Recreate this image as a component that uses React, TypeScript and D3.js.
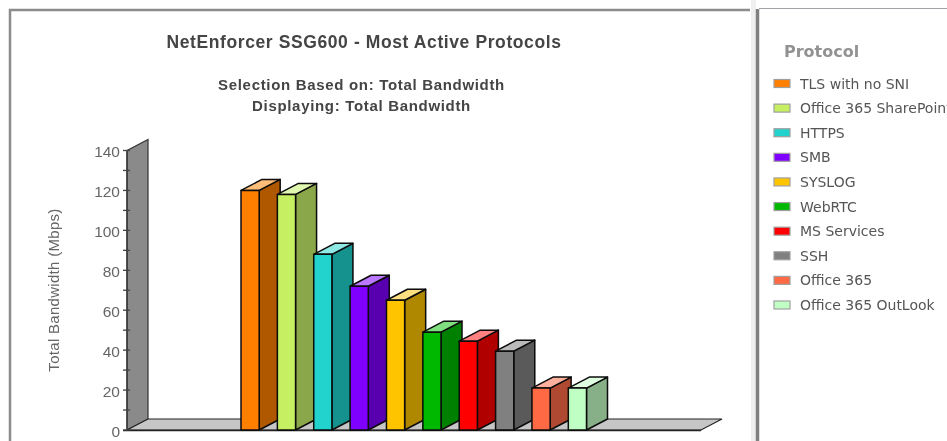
import React from "react";
import * as d3 from "d3";

const categories = ["TLS with no SNI", "Office 365 SharePoint", "HTTPS", "SMB", "SYSLOG", "WebRTC", "MS Services", "SSH", "Office 365", "Office 365 OutLook"];
const values = [120, 118, 88, 72, 65, 49, 44.5, 39.5, 21, 21];
const frontColors = ["#ff8000", "#c6ef62", "#20d2cc", "#8000ff", "#ffc400", "#00b800", "#ff0000", "#808080", "#ff6a45", "#c0ffc4"];
const sideColors = ["#b05800", "#8aa748", "#18928e", "#5800b0", "#b08800", "#008000", "#b00000", "#5a5a5a", "#b04a30", "#88b088"];
const topColors = ["#ffbe78", "#e0f7b0", "#8ee8e4", "#bb77ff", "#ffe080", "#80e080", "#ff8080", "#bbbbbb", "#ffb09c", "#e0ffe0"];
const yTicks = [0, 20, 40, 60, 80, 100, 120, 140];
const yMinorTicks = [10, 30, 50, 70, 90, 110, 130];
const title = "NetEnforcer SSG600 - Most Active Protocols";
const subtitles = ["Selection Based on: Total Bandwidth", "Displaying: Total Bandwidth"];
const yLabel = "Total Bandwidth (Mbps)";
const legendTitle = "Protocol";

const DX = 21;
const DY = -11;
const AXIS_X = 127;
const FLOOR_END = 701;

export default function App() {
  const y = d3.scaleLinear().domain([0, 140]).range([430, 150.5]);
  const x = d3.scaleBand<string>().domain(categories).range([241, 586.5]).paddingInner(0.5).paddingOuter(0);
  const w = x.bandwidth();
  const legendY = d3.scalePoint<string>().domain(categories).range([83.5, 305]);
  const poly = (pts: [number, number][]) => d3.line()(pts)! + "Z";
  const bars = categories.map((c, i) => ({ c, v: values[i], i, x0: x(c)!, yt: y(values[i]) }));

  return (
    <svg width={947} height={441} viewBox="0 0 947 441" style={{ position: "fixed", left: 0, top: 0, display: "block", background: "#fff" }}>
      <defs>
        <filter id="soft" x="-5%" y="-5%" width="110%" height="110%"><feGaussianBlur stdDeviation="0.4" /></filter>
      </defs>
      <g filter="url(#soft)">
        {/* panels */}
        <rect x={751} y={0} width={5} height={441} fill="#f0f0f0" />
        <path d="M10 441V10H750" fill="none" stroke="#8c8c8c" strokeWidth={2.5} />
        <path d="M757.5 441V9" fill="none" stroke="#808080" strokeWidth={3.5} />
        <path d="M759 8.5H947" fill="none" stroke="#a0a4a8" strokeWidth={1} />
        {/* walls */}
        <path d={poly([[AXIS_X, y(140)], [AXIS_X + DX, y(140) + DY], [AXIS_X + DX, y(0) + DY], [AXIS_X, y(0)]])} fill="#8a8a8a" stroke="#333" strokeWidth={1.2} />
        <path d={poly([[AXIS_X, y(0)], [AXIS_X + DX, y(0) + DY], [FLOOR_END + DX, y(0) + DY], [FLOOR_END, y(0)]])} fill="#c6c6c6" stroke="#222" strokeWidth={1.2} />
        {/* axis */}
        <line x1={AXIS_X} x2={AXIS_X} y1={y(140)} y2={y(0)} stroke="#333" strokeWidth={1.2} />
        <line x1={123} x2={FLOOR_END} y1={y(0) + 0.5} y2={y(0) + 0.5} stroke="#222" strokeWidth={1.6} />
        {yTicks.map((t) => (
          <g key={t}>
            <line x1={123} x2={130} y1={y(t)} y2={y(t)} stroke="#444" strokeWidth={1.3} />
            <text x={120} y={y(t) + 6.5} textAnchor="end" fontFamily="Liberation Sans" fontSize={15.5} fill="#666">{t}</text>
          </g>
        ))}
        {yMinorTicks.map((t) => (
          <line key={t} x1={123} x2={130} y1={y(t)} y2={y(t)} stroke="#444" strokeWidth={1.3} />
        ))}
        {/* bars */}
        {bars.map((b) => (
          <g key={b.c} stroke="#0a0a0a" strokeWidth={1.5} strokeLinejoin="round">
            <path d={poly([[b.x0 + w, b.yt], [b.x0 + w + DX, b.yt + DY], [b.x0 + w + DX, y(0) + DY], [b.x0 + w, y(0)]])} fill={sideColors[b.i]} />
            <path d={poly([[b.x0, b.yt], [b.x0 + DX, b.yt + DY], [b.x0 + w + DX, b.yt + DY], [b.x0 + w, b.yt]])} fill={topColors[b.i]} />
            <rect x={b.x0} y={b.yt} width={w} height={y(0) - b.yt} fill={frontColors[b.i]} />
          </g>
        ))}
        {/* titles */}
        <text x={364} y={48} textAnchor="middle" fontFamily="Liberation Sans" fontWeight="bold" fontSize={17.5} letterSpacing={0.6} fill="#444">{title}</text>
        {subtitles.map((s, i) => (
          <text key={s} x={361.5} y={90 + i * 20.5} textAnchor="middle" fontFamily="Liberation Sans" fontWeight="bold" fontSize={15} letterSpacing={0.68} fill="#444">{s}</text>
        ))}
        <text transform="translate(59,290) rotate(-90)" textAnchor="middle" fontFamily="Liberation Sans" fontSize={15} letterSpacing={0.3} fill="#666">{yLabel}</text>
        {/* legend */}
        <text x={784} y={56.5} fontFamily="DejaVu Sans" fontWeight="bold" fontSize={16} fill="#929292">{legendTitle}</text>
        {categories.map((c, i) => (
          <g key={c}>
            <rect x={774} y={legendY(c)! - 4} width={16} height={8} fill={frontColors[i]} stroke="#a0a0a0" strokeWidth={1.2} />
            <text x={800} y={legendY(c)! + 5} fontFamily="DejaVu Sans" fontSize={14} fill="#555">{c}</text>
          </g>
        ))}
      </g>
    </svg>
  );
}
